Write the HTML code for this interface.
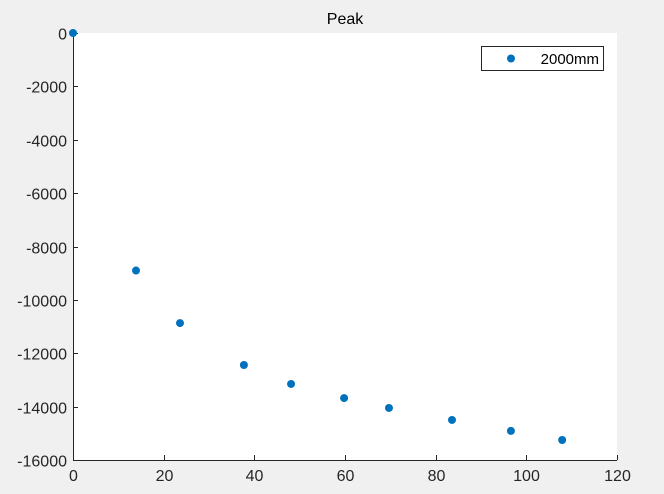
<!DOCTYPE html>
<html><head><meta charset="utf-8"><style>
body{margin:0;background:#f0f0f0;font-family:"Liberation Sans",sans-serif;overflow:hidden;}
</style></head><body>
<svg width="664" height="494" style="display:block" xmlns="http://www.w3.org/2000/svg">
<rect x="0" y="0" width="664" height="494" fill="#f0f0f0"/>
<rect x="73" y="33" width="544" height="427" fill="#fff"/>
<text x="345" y="24" text-anchor="middle" font-size="16" fill="#000">Peak</text>
<g id="axes"></g>
<g id="pts"></g>
<g>
<rect x="481.5" y="46.5" width="122" height="24" fill="#fff" stroke="#262626" stroke-width="1"/>
<circle cx="511" cy="58.5" r="4" fill="#0072bd"/>
<text x="599" y="64" text-anchor="end" font-size="15" fill="#000">2000mm</text>
</g>
</svg>
<script>
const xs=[0,13.9,23.6,37.7,48.1,59.8,69.7,83.6,96.6,107.9];
const ys=[0,-8900,-10870,-12440,-13150,-13680,-14050,-14500,-14910,-15250];
const xTicks=[0,20,40,60,80,100,120];
const yTicks=[0,-2000,-4000,-6000,-8000,-10000,-12000,-14000,-16000];
const L=73,R=617,T=33,B=460;
const sx=v=>L+(v-0)/120*(R-L);
const sy=v=>T+(0-v)/16000*(B-T);
const NS="http://www.w3.org/2000/svg";
const ax=document.getElementById('axes');
function mk(t,a,p){const e=document.createElementNS(NS,t);for(const k in a)e.setAttribute(k,a[k]);p.appendChild(e);return e;}
let l=mk('line',{x1:L,y1:B+0.5,x2:R,y2:B+0.5,stroke:'#262626'},ax);


l=mk('line',{x1:L+0.5,y1:T,x2:L+0.5,y2:B,stroke:'#262626'},ax);


xTicks.forEach(v=>{const x=Math.round(sx(v))+0.5;
 const t=mk('line',{x1:x,y1:B,x2:x,y2:B-5,stroke:'#262626'},ax);
 
 
 const s=mk('text',{x:x,y:B+21,'text-anchor':'middle','font-size':'16',fill:'#262626'},ax);
 s.textContent=v;
 
 });
yTicks.forEach(v=>{const y=Math.round(sy(v))+0.5;
 const t=mk('line',{x1:L,y1:y,x2:L+5,y2:y,stroke:'#262626'},ax);
 
 
 const s=mk('text',{x:L-6,y:y+6,'text-anchor':'end','font-size':'16',fill:'#262626'},ax);
 s.textContent=v;
 
 });
const pg=document.getElementById('pts');
xs.forEach((v,i)=>{const c=mk('circle',{cx:sx(v),cy:sy(ys[i]),r:4,fill:'#0072bd'},pg);
 
 });
</script>
</body></html>
